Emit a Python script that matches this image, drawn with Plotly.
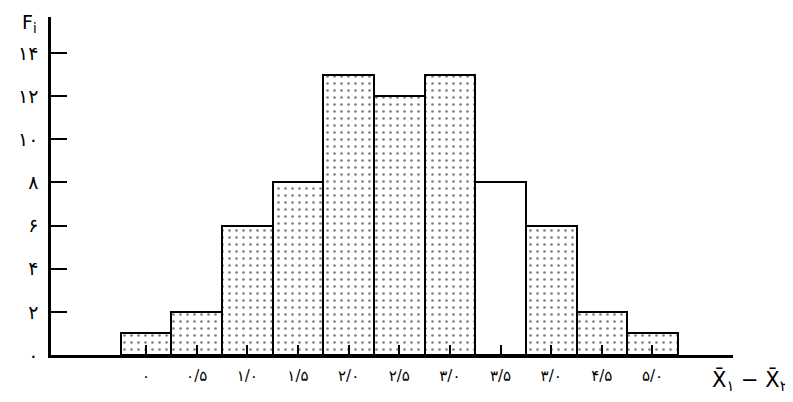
import plotly.graph_objects as go

# Data
bin_centers = [0.0, 0.5, 1.0, 1.5, 2.0, 2.5, 3.0, 3.5, 4.0, 4.5, 5.0]
frequencies = [1, 2, 6, 8, 13, 12, 13, 8, 6, 2, 1]
x_tick_labels = ["۰", "۰/۵", "۱/۰", "۱/۵", "۲/۰", "۲/۵", "۳/۰", "۳/۵", "۳/۰", "۴/۵", "۵/۰"]
y_tick_values = [0, 2, 4, 6, 8, 10, 12, 14]
y_tick_labels = ["۰", "۲", "۴", "۶", "۸", "۱۰", "۱۲", "۱۴"]
y_title = "F<sub>i</sub>"
x_title = "X̄<sub>۱</sub> − X̄<sub>۲</sub>"

patterns = ["."] * len(bin_centers)
patterns[7] = ""

FONT = "DejaVu Sans"

fig = go.Figure()
fig.add_trace(go.Bar(
    x=bin_centers,
    y=frequencies,
    width=0.5,
    marker=dict(
        color="white",
        line=dict(color="black", width=2),
        pattern=dict(shape=patterns, fgcolor="black", bgcolor="white",
                     size=7, solidity=0.12, fillmode="overlay"),
    ),
    showlegend=False,
    hoverinfo="x+y",
))

# The page body adds an 8px offset, so the figure is 8px smaller
fig.update_layout(
    width=785, height=394,
    margin=dict(l=43, r=60, t=9, b=47, autoexpand=False),
    paper_bgcolor="white", plot_bgcolor="white",
    font=dict(family=FONT, color="black"),
    bargap=0,
    xaxis=dict(
        range=[-0.938, 5.795],
        automargin=False,
        tickmode="array", tickvals=bin_centers, ticktext=x_tick_labels,
        ticks="inside", ticklen=10, tickwidth=2, tickcolor="black",
        tickfont=dict(size=15, family=FONT),
        showline=True, linecolor="black", linewidth=2.5,
        showgrid=False, zeroline=False,
        ticklabelstandoff=5,
    ),
    yaxis=dict(
        range=[0, 15.67],
        automargin=False,
        tickmode="array", tickvals=y_tick_values, ticktext=y_tick_labels,
        ticks="inside", ticklen=16, tickwidth=2, tickcolor="black",
        tickfont=dict(size=19, family=FONT),
        showline=True, linecolor="black", linewidth=2.5,
        showgrid=False, zeroline=False,
        ticklabelstandoff=6,
    ),
    annotations=[
        dict(text=y_title, xref="paper", yref="paper", x=-0.031, y=1.024,
             xanchor="center", yanchor="top", showarrow=False,
             font=dict(size=19, family=FONT)),
        dict(text=x_title, xref="paper", yref="paper", x=1.025, y=-0.075,
             xanchor="center", yanchor="middle", showarrow=False,
             font=dict(size=21, family=FONT)),
    ],
)

fig.write_html("out.html")
